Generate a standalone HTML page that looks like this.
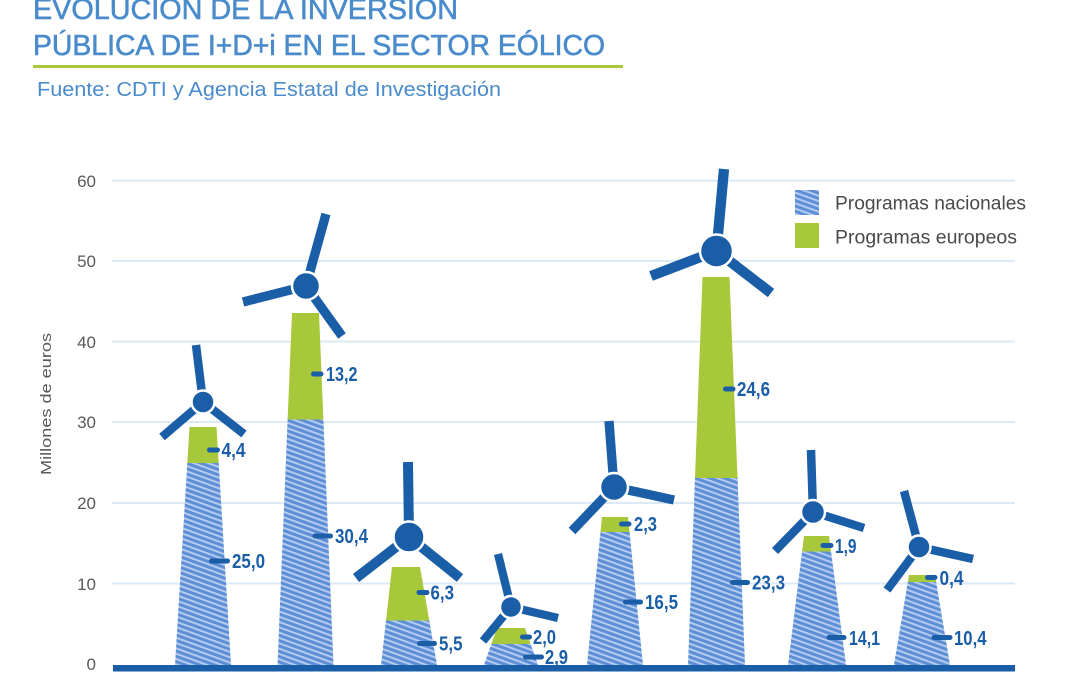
<!DOCTYPE html>
<html><head><meta charset="utf-8"><style>
html,body{margin:0;padding:0;background:#fff;}
svg{display:block;}
text{font-family:"Liberation Sans",sans-serif;}
</style></head><body>
<svg width="1080" height="675" viewBox="0 0 1080 675" xmlns="http://www.w3.org/2000/svg">
<defs>
<pattern id="h" patternUnits="userSpaceOnUse" width="10" height="5" patternTransform="rotate(20)">
<rect width="10" height="5" fill="#b3cbee"/><rect width="10" height="3" fill="#5e8fd6"/>
</pattern>
<clipPath id="c1"><polygon points="189.5,427 216.5,427 231,665 175,665"/></clipPath>
<clipPath id="c2"><polygon points="292,313 319,313 333.5,665 277.5,665"/></clipPath>
<clipPath id="c3"><polygon points="392,567 420,567 437,665 381,665"/></clipPath>
<clipPath id="c4"><polygon points="497,628 525,628 538,665 484,665"/></clipPath>
<clipPath id="c5"><polygon points="602,517 628,517 643,665 587,665"/></clipPath>
<clipPath id="c6"><polygon points="702.5,277 729.5,277 745,665 688,665"/></clipPath>
<clipPath id="c7"><polygon points="804,536 829,536 846,665 788,665"/></clipPath>
<clipPath id="c8"><polygon points="909,575 935,575 950,665 894,665"/></clipPath>
</defs>
<rect width="1080" height="675" fill="#fff"/>

<!-- Title -->
<g fill="#4a8bcb" stroke="#4a8bcb" stroke-width="0.6">
<text x="33" y="19" font-size="29" textLength="425" lengthAdjust="spacingAndGlyphs">EVOLUCIÓN DE LA INVERSIÓN</text>
<text x="33" y="55" font-size="29" textLength="572" lengthAdjust="spacingAndGlyphs">PÚBLICA DE I+D+i EN EL SECTOR EÓLICO</text>
</g>
<rect x="33" y="65" width="590" height="3" fill="#a8c83c"/>
<text x="37" y="96" font-size="20" fill="#4a8bcb" textLength="464" lengthAdjust="spacingAndGlyphs">Fuente: CDTI y Agencia Estatal de Investigación</text>

<!-- Gridlines -->
<g stroke="#dce9f6" stroke-width="2">
<line x1="112" y1="180.7" x2="1015" y2="180.7"/>
<line x1="112" y1="261" x2="1015" y2="261"/>
<line x1="112" y1="341.5" x2="1015" y2="341.5"/>
<line x1="112" y1="422" x2="1015" y2="422"/>
<line x1="112" y1="503" x2="1015" y2="503"/>
<line x1="112" y1="583.5" x2="1015" y2="583.5"/>
</g>

<!-- Tick labels -->
<g font-size="17" fill="#595959" text-anchor="end">
<text x="96" y="187">60</text>
<text x="96" y="267">50</text>
<text x="96" y="348">40</text>
<text x="96" y="428">30</text>
<text x="96" y="509">20</text>
<text x="96" y="590">10</text>
<text x="96" y="670">0</text>
</g>
<text transform="translate(51,404) rotate(-90)" font-size="15" fill="#595959" text-anchor="middle" textLength="142" lengthAdjust="spacingAndGlyphs">Millones de euros</text>

<!-- Towers -->
<g clip-path="url(#c1)"><rect x="170" y="427" width="70" height="36" fill="#a8c83c"/><rect x="170" y="463" width="70" height="202" fill="url(#h)"/></g>
<g clip-path="url(#c2)"><rect x="270" y="313" width="70" height="106.5" fill="#a8c83c"/><rect x="270" y="419.5" width="70" height="245.5" fill="url(#h)"/></g>
<g clip-path="url(#c3)"><rect x="375" y="567" width="70" height="53.5" fill="#a8c83c"/><rect x="375" y="620.5" width="70" height="44.5" fill="url(#h)"/></g>
<g clip-path="url(#c4)"><rect x="480" y="628" width="70" height="16" fill="#a8c83c"/><rect x="480" y="644" width="70" height="21" fill="url(#h)"/></g>
<g clip-path="url(#c5)"><rect x="580" y="517" width="70" height="15" fill="#a8c83c"/><rect x="580" y="532" width="70" height="133" fill="url(#h)"/></g>
<g clip-path="url(#c6)"><rect x="680" y="277" width="70" height="201" fill="#a8c83c"/><rect x="680" y="478" width="70" height="187" fill="url(#h)"/></g>
<g clip-path="url(#c7)"><rect x="780" y="536" width="70" height="15.5" fill="#a8c83c"/><rect x="780" y="551.5" width="70" height="113.5" fill="url(#h)"/></g>
<g clip-path="url(#c8)"><rect x="890" y="575" width="70" height="7" fill="#a8c83c"/><rect x="890" y="582" width="70" height="83" fill="url(#h)"/></g>

<!-- Axis -->
<rect x="113" y="665" width="902" height="6.5" fill="#1b5ea8"/>

<!-- Turbines -->
<g stroke="#1b5ea8" stroke-linecap="butt" fill="none">
<g stroke-width="8.5"><line x1="203" y1="402" x2="196" y2="345"/><line x1="203" y1="402" x2="162" y2="437"/><line x1="203" y1="402" x2="244" y2="434"/></g>
<g stroke-width="9.3"><line x1="306" y1="286" x2="326" y2="214"/><line x1="306" y1="286" x2="243" y2="302"/><line x1="306" y1="286" x2="342" y2="336"/></g>
<g stroke-width="10"><line x1="409" y1="537" x2="408" y2="462"/><line x1="409" y1="537" x2="356" y2="578"/><line x1="409" y1="537" x2="460" y2="578"/></g>
<g stroke-width="8.3"><line x1="511" y1="607" x2="498" y2="554"/><line x1="511" y1="607" x2="483" y2="641"/><line x1="511" y1="607" x2="558" y2="618"/></g>
<g stroke-width="9.3"><line x1="614" y1="487" x2="609" y2="421"/><line x1="614" y1="487" x2="572" y2="531"/><line x1="614" y1="487" x2="674" y2="500"/></g>
<g stroke-width="10.3"><line x1="716.5" y1="251" x2="724" y2="169"/><line x1="716.5" y1="251" x2="651" y2="276"/><line x1="716.5" y1="251" x2="771" y2="293"/></g>
<g stroke-width="8.5"><line x1="813" y1="512" x2="811" y2="450"/><line x1="813" y1="512" x2="775" y2="551"/><line x1="813" y1="512" x2="864" y2="528"/></g>
<g stroke-width="8.5"><line x1="919" y1="547" x2="904" y2="491"/><line x1="919" y1="547" x2="887" y2="590"/><line x1="919" y1="547" x2="973" y2="559"/></g>
</g>
<g fill="#1b5ea8" stroke="#fff" stroke-width="2.5">
<circle cx="203" cy="402" r="11.5"/>
<circle cx="306" cy="286" r="14"/>
<circle cx="409" cy="537" r="15.5"/>
<circle cx="511" cy="607" r="11"/>
<circle cx="614" cy="487" r="14"/>
<circle cx="716.5" cy="251" r="16.5"/>
<circle cx="813" cy="512" r="12"/>
<circle cx="919" cy="547" r="11.5"/>
</g>

<!-- Value labels -->
<g fill="#1b5ea8">
<rect x="207" y="447.5" width="13" height="5" rx="2.5"/>
<rect x="209" y="558.5" width="21" height="5" rx="2.5"/>
<rect x="311" y="371.5" width="12.5" height="5" rx="2.5"/>
<rect x="312.5" y="533.5" width="20.5" height="5" rx="2.5"/>
<rect x="416.5" y="590" width="13" height="5" rx="2.5"/>
<rect x="417" y="641" width="20" height="5" rx="2.5"/>
<rect x="520" y="634.5" width="12" height="5" rx="2.5"/>
<rect x="523" y="654.5" width="21" height="5" rx="2.5"/>
<rect x="619" y="521.5" width="12.5" height="5" rx="2.5"/>
<rect x="623" y="599.5" width="20" height="5" rx="2.5"/>
<rect x="723" y="386.5" width="12.5" height="5" rx="2.5"/>
<rect x="730" y="580" width="20" height="5" rx="2.5"/>
<rect x="820.5" y="543" width="13" height="5" rx="2.5"/>
<rect x="826.5" y="635" width="20" height="5" rx="2.5"/>
<rect x="925" y="575" width="12.5" height="5" rx="2.5"/>
<rect x="931.5" y="635" width="21" height="5" rx="2.5"/>
</g>
<g fill="#1b5ea8" font-size="20" font-weight="bold">
<text x="221.5" y="457" textLength="24" lengthAdjust="spacingAndGlyphs">4,4</text>
<text x="232" y="568" textLength="33" lengthAdjust="spacingAndGlyphs">25,0</text>
<text x="326" y="381" textLength="31.5" lengthAdjust="spacingAndGlyphs">13,2</text>
<text x="335" y="543" textLength="33" lengthAdjust="spacingAndGlyphs">30,4</text>
<text x="430.5" y="599.5" textLength="23.5" lengthAdjust="spacingAndGlyphs">6,3</text>
<text x="439" y="650.5" textLength="23.5" lengthAdjust="spacingAndGlyphs">5,5</text>
<text x="533" y="644" textLength="23" lengthAdjust="spacingAndGlyphs">2,0</text>
<text x="545" y="664" textLength="23" lengthAdjust="spacingAndGlyphs">2,9</text>
<text x="634" y="531" textLength="23" lengthAdjust="spacingAndGlyphs">2,3</text>
<text x="645" y="609" textLength="33" lengthAdjust="spacingAndGlyphs">16,5</text>
<text x="737" y="396" textLength="33" lengthAdjust="spacingAndGlyphs">24,6</text>
<text x="752" y="589.5" textLength="33" lengthAdjust="spacingAndGlyphs">23,3</text>
<text x="835" y="553" textLength="21.5" lengthAdjust="spacingAndGlyphs">1,9</text>
<text x="849" y="645" textLength="31" lengthAdjust="spacingAndGlyphs">14,1</text>
<text x="939.5" y="585" textLength="24" lengthAdjust="spacingAndGlyphs">0,4</text>
<text x="954" y="645" textLength="32.5" lengthAdjust="spacingAndGlyphs">10,4</text>
</g>

<!-- Legend -->
<rect x="795" y="190" width="24" height="25" fill="url(#h)"/>
<rect x="795" y="223" width="24" height="25" fill="#a8c83c"/>
<g font-size="19" fill="#4a4a4a">
<text x="835" y="209.5" textLength="191" lengthAdjust="spacingAndGlyphs">Programas nacionales</text>
<text x="835" y="243.5" textLength="182" lengthAdjust="spacingAndGlyphs">Programas europeos</text>
</g>
</svg>
</body></html>
